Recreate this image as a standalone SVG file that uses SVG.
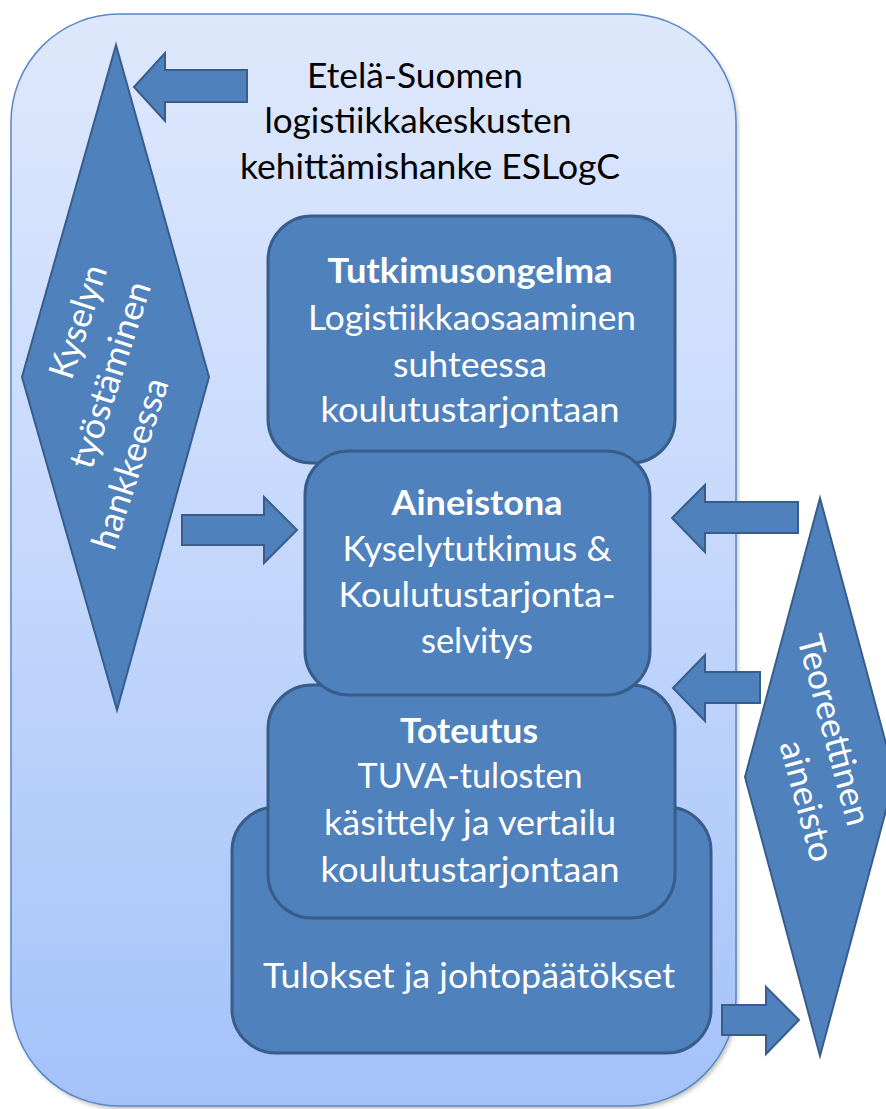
<svg xmlns="http://www.w3.org/2000/svg" width="886" height="1109" viewBox="0 0 886 1109">
  <defs>
    <linearGradient id="bg" x1="0" y1="0" x2="0" y2="1">
      <stop offset="0" stop-color="#dee8fc"/>
      <stop offset="0.5" stop-color="#c5d8fc"/>
      <stop offset="1" stop-color="#a4c2f9"/>
    </linearGradient>
    <filter id="sh" x="-5%" y="-5%" width="110%" height="110%">
      <feGaussianBlur stdDeviation="2"/>
    </filter>
  </defs>
  <style>
    .shape { fill: #4f81bd; stroke: #385d8a; stroke-width: 3; }
    .arrow { fill: #4f81bd; stroke: #385d8a; stroke-width: 2; stroke-linejoin: miter; }
    .t { font-family: Lato, "Open Sans", sans-serif; font-size: 35px; fill: #ffffff; text-anchor: middle; }
    .b { font-weight: bold; }
    .title { font-family: Lato, "Open Sans", sans-serif; font-size: 35px; fill: #000000; text-anchor: middle; }
  </style>

  <g id="frame">
    <rect x="13" y="17" width="725" height="1092" rx="108" ry="108" fill="#8a8a8a" opacity="0.55" filter="url(#sh)"/>
    <rect x="11" y="14" width="725" height="1092" rx="108" ry="108" fill="url(#bg)" stroke="#5a87c6" stroke-width="1.5"/>
  </g>

  <g id="title">
    <text class="title" x="415" y="88" textLength="216" lengthAdjust="spacingAndGlyphs">Etelä-Suomen</text>
    <text class="title" x="418" y="133" textLength="307" lengthAdjust="spacingAndGlyphs">logistiikkakeskusten</text>
    <text class="title" x="430" y="179" textLength="380" lengthAdjust="spacingAndGlyphs">kehittämishanke ESLogC</text>
  </g>

  <g id="diamond-left">
    <polygon class="arrow" points="116,45 209,377 117,710 22,377"/>
    <g transform="translate(79,322) rotate(-72)"><text class="t" x="0" y="11" textLength="117" lengthAdjust="spacingAndGlyphs">Kyselyn</text></g>
    <g transform="translate(111,375) rotate(-72)"><text class="t" x="0" y="11" textLength="194" lengthAdjust="spacingAndGlyphs">työstäminen</text></g>
    <g transform="translate(131,464) rotate(-72)"><text class="t" x="0" y="11" textLength="178" lengthAdjust="spacingAndGlyphs">hankkeessa</text></g>
  </g>

  <g id="diamond-right">
    <polygon class="arrow" points="820,498 895,777 820,1056 745,777"/>
    <g transform="translate(834,730) rotate(75)"><text class="t" x="0" y="12" textLength="196" lengthAdjust="spacingAndGlyphs">Teoreettinen</text></g>
    <g transform="translate(807,801) rotate(75)"><text class="t" x="0" y="12" textLength="124" lengthAdjust="spacingAndGlyphs">aineisto</text></g>
  </g>

  <g id="connectors">
    <path class="arrow" d="M247,70 L165,70 L165,53 L134,87 L165,121 L165,102 L247,102 Z"/>
    <path class="arrow" d="M182,515 L264,515 L264,497 L297,530 L264,563 L264,545 L182,545 Z"/>
    <path class="arrow" d="M798,502 L705,502 L705,485 L672,518 L705,552 L705,533 L798,533 Z"/>
    <path class="arrow" d="M760,672 L705,672 L705,655 L673,688 L705,721 L705,703 L760,703 Z"/>
    <path class="arrow" d="M722,1005 L766,1005 L766,987 L799,1020 L766,1054 L766,1035 L722,1035 Z"/>
  </g>

  <g id="box-tulokset">
    <rect class="shape" x="232" y="807" width="479" height="246" rx="44" ry="44"/>
    <text class="t" x="469" y="988" textLength="412" lengthAdjust="spacingAndGlyphs">Tulokset ja johtopäätökset</text>
  </g>

  <g id="box-toteutus">
    <rect class="shape" x="268" y="685" width="407" height="233" rx="44" ry="44"/>
    <text class="t b" x="469" y="743" textLength="138" lengthAdjust="spacingAndGlyphs">Toteutus</text>
    <text class="t" x="470" y="788" textLength="225" lengthAdjust="spacingAndGlyphs">TUVA-tulosten</text>
    <text class="t" x="470" y="835" textLength="292" lengthAdjust="spacingAndGlyphs">käsittely ja vertailu</text>
    <text class="t" x="470" y="882" textLength="299" lengthAdjust="spacingAndGlyphs">koulutustarjontaan</text>
  </g>

  <g id="box-tutkimusongelma">
    <rect class="shape" x="268" y="216" width="407" height="247" rx="44" ry="44"/>
    <text class="t b" x="470" y="283" textLength="285" lengthAdjust="spacingAndGlyphs">Tutkimusongelma</text>
    <text class="t" x="472" y="330" textLength="328" lengthAdjust="spacingAndGlyphs">Logistiikkaosaaminen</text>
    <text class="t" x="470" y="377" textLength="154" lengthAdjust="spacingAndGlyphs">suhteessa</text>
    <text class="t" x="470" y="422" textLength="299" lengthAdjust="spacingAndGlyphs">koulutustarjontaan</text>
  </g>

  <g id="box-aineistona">
    <rect class="shape" x="305" y="451" width="345" height="244" rx="44" ry="44"/>
    <text class="t b" x="477" y="515" textLength="171" lengthAdjust="spacingAndGlyphs">Aineistona</text>
    <text class="t" x="477" y="561" textLength="269" lengthAdjust="spacingAndGlyphs">Kyselytutkimus &amp;</text>
    <text class="t" x="477" y="607" textLength="277" lengthAdjust="spacingAndGlyphs">Koulutustarjonta-</text>
    <text class="t" x="477" y="653" textLength="112" lengthAdjust="spacingAndGlyphs">selvitys</text>
  </g>
</svg>
